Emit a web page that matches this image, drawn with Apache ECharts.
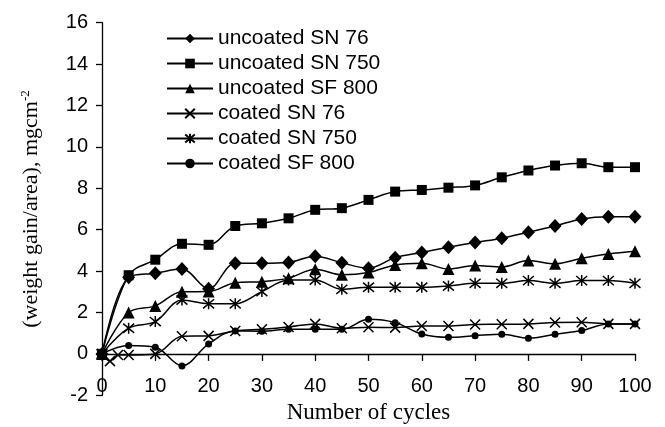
<!DOCTYPE html>
<html>
<head>
<meta charset="utf-8">
<script src="https://cdn.jsdelivr.net/npm/echarts@6/dist/echarts.min.js"></script>
<style>html,body{margin:0;padding:0;background:#fff;}#c{width:665px;height:427px;}</style>
</head>
<body>
<div id="c"></div>
<script>
// ---- data ----
var cycles = [0,5,10,15,20,25,30,35,40,45,50,55,60,65,70,75,80,85,90,95,100];
var cyclesCoatedSN76 = [0,1.5,3,5,10,15,20,25,30,35,40,45,50,55,60,65,70,75,80,85,90,95,100];
var seriesNames = ['uncoated SN 76','uncoated SN 750','uncoated SF 800','coated SN 76','coated SN 750','coated SF 800'];
var uncoatedSN76  = [0,3.7,3.9,4.1,3.15,4.38,4.38,4.42,4.72,4.4,4.14,4.65,4.9,5.15,5.38,5.59,5.88,6.18,6.52,6.63,6.63];
var uncoatedSN750 = [0,3.8,4.55,5.32,5.27,6.18,6.31,6.55,6.96,7.04,7.44,7.84,7.92,8.03,8.14,8.53,8.86,9.1,9.21,9.02,9.02];
var uncoatedSF800 = [0,2.0,2.32,3.0,3.01,3.44,3.49,3.66,4.09,3.82,3.93,4.3,4.38,4.1,4.27,4.2,4.51,4.35,4.62,4.83,4.96];
var coatedSN76    = [0,-0.35,-0.05,-0.05,0,0.85,0.87,1.11,1.19,1.3,1.45,1.24,1.29,1.27,1.35,1.35,1.42,1.43,1.45,1.52,1.53,1.45,1.45];
var coatedSN750   = [0,1.24,1.56,2.6,2.42,2.42,3.01,3.57,3.57,3.12,3.22,3.22,3.22,3.28,3.41,3.41,3.54,3.41,3.54,3.54,3.41];
var coatedSF800   = [0,0.4,0.32,-0.58,0.48,1.11,1.1,1.19,1.19,1.19,1.67,1.51,0.96,0.8,0.88,0.95,0.76,0.95,1.13,1.45,1.45];
var xTicks = {min:0, max:100, interval:10};
var yTicks = {min:-2, max:16, interval:2};

function pairs(xs, ys){ return xs.map(function(x,i){ return [x, ys[i]]; }); }

var INK = '#000';
var crossPath = 'path://M0,0L10,10M10,0L0,10';
var starPath = 'path://M0,0L10,10M10,0L0,10M5,-1L5,11';

function mk(name, xs, ys, symbol, size, stroked){
  return {
    name: name, type: 'line', data: pairs(xs, ys),
    smooth: 0.35, symbol: symbol, symbolSize: size, showSymbol: true,
    lineStyle: {color: INK, width: 1.5},
    itemStyle: stroked ? {color: 'none', borderColor: INK, borderWidth: 1.5}
                       : {color: INK, borderColor: INK, borderWidth: 0},
    emphasis: {disabled: true},
    animation: false
  };
}

var chart = echarts.init(document.getElementById('c'), null, {renderer: 'canvas'});
chart.setOption({
  backgroundColor: '#fff',
  animation: false,
  grid: {left: 102, right: 30, top: 22.7, bottom: 31.7, containLabel: false, outerBoundsMode: 'none'},
  legend: {
    orient: 'vertical', left: 166, top: 28, padding: 0,
    itemWidth: 46, itemHeight: 12, itemGap: 4,
    textStyle: {fontFamily: 'Liberation Sans', fontSize: 21, color: INK, lineHeight: 21},
    data: seriesNames
  },
  xAxis: {
    type: 'value', min: xTicks.min, max: xTicks.max, interval: xTicks.interval,
    name: 'Number of cycles', nameLocation: 'middle', nameGap: 6,
    nameTextStyle: {fontFamily: 'Liberation Serif', fontSize: 23, color: INK},
    axisLine: {onZero: true, lineStyle: {color: INK, width: 1.3}},
    axisTick: {show: true, length: 7, lineStyle: {color: INK, width: 1.3}},
    axisLabel: {margin: -19, fontFamily: 'Liberation Sans', fontSize: 20, color: INK},
    splitLine: {show: false}
  },
  yAxis: {
    type: 'value', min: yTicks.min, max: yTicks.max, interval: yTicks.interval,
    name: '(weight gain/area), mgcm{s|-2}', nameLocation: 'middle', nameGap: 58,
    nameTextStyle: {fontFamily: 'Liberation Serif', fontSize: 22, color: INK,
      rich: {s: {fontFamily: 'Liberation Serif', fontSize: 13, color: INK, verticalAlign: 'top', padding: [0,0,12,0]}}},
    axisLine: {show: true, lineStyle: {color: INK, width: 1.3}},
    axisTick: {show: true, length: 6, lineStyle: {color: INK, width: 1.3}},
    axisLabel: {margin: 14, fontFamily: 'Liberation Sans', fontSize: 20, color: INK},
    splitLine: {show: false}
  },
  series: [
    mk(seriesNames[0], cycles, uncoatedSN76, 'diamond', [13,14], false),
    mk(seriesNames[1], cycles, uncoatedSN750, 'rect', 10, false),
    mk(seriesNames[2], cycles, uncoatedSF800, 'triangle', 12, false),
    mk(seriesNames[3], cyclesCoatedSN76, coatedSN76, crossPath, 10, true),
    mk(seriesNames[4], cycles, coatedSN750, starPath, 11, true),
    mk(seriesNames[5], cycles, coatedSF800, 'circle', 7, false)
  ]
});
</script>
</body>
</html>
